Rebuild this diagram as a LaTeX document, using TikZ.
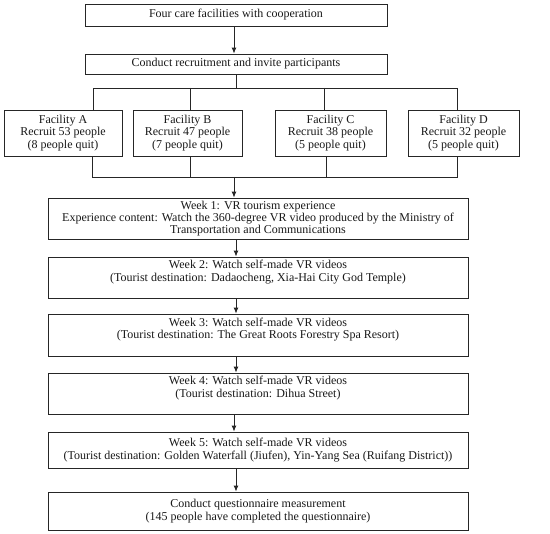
\documentclass[tikz,border=0pt]{standalone}
\usepackage{fontspec}
\setmainfont{Liberation Serif}
\usetikzlibrary{arrows.meta}
\begin{document}
\begin{tikzpicture}[x=1pt,y=-1pt,
  box/.style={draw=black!85, line width=0.8pt, align=center, inner sep=0pt,
    font=\fontsize{12}{12.3}\selectfont, text=black!90},
  conn/.style={draw=black!85, line width=0.9pt},
  arr/.style={conn, -{Latex[length=6pt,width=5pt]}}]
\useasboundingbox (0,0) rectangle (550,534);
\fill[white] (0,0) rectangle (550,534);
\node[box, minimum width=302pt, minimum height=22pt] (top) at (236,15) {Four care facilities with cooperation};
\node[box, minimum width=302pt, minimum height=20pt] (rec) at (236,64) {Conduct recruitment and invite participants};
\node[box, minimum width=118pt, minimum height=46pt] (A) at (63,133) {Facility A\\Recruit 53 people\\(8 people quit)};
\node[box, minimum width=109pt, minimum height=46pt] (B) at (187.5,133) {Facility B\\Recruit 47 people\\(7 people quit)};
\node[box, minimum width=111pt, minimum height=46pt] (C) at (330.5,133) {Facility C\\Recruit 38 people\\(5 people quit)};
\node[box, minimum width=111pt, minimum height=46pt] (D) at (463.5,133) {Facility D\\Recruit 32 people\\(5 people quit)};
\node[box, minimum width=420pt, minimum height=41pt] (w1) at (258,218.5) {Week 1: VR tourism experience\\Experience content: Watch the 360-degree VR video produced by the Ministry of\\Transportation and Communications};
\node[box, minimum width=420pt, minimum height=41pt] (w2) at (258,277.5) {Week 2: Watch self-made VR videos\\(Tourist destination: Dadaocheng, Xia-Hai City God Temple)\\[1pt]};
\node[box, minimum width=420pt, minimum height=42pt] (w3) at (258,335) {Week 3: Watch self-made VR videos\\(Tourist destination: The Great Roots Forestry Spa Resort)\\[1pt]};
\node[box, minimum width=420pt, minimum height=41pt] (w4) at (258,393.5) {Week 4: Watch self-made VR videos\\(Tourist destination: Dihua Street)\\[1pt]};
\node[box, minimum width=420pt, minimum height=36pt] (w5) at (258,450) {Week 5: Watch self-made VR videos\\(Tourist destination: Golden Waterfall (Jiufen), Yin-Yang Sea (Ruifang District))};
\node[box, minimum width=420pt, minimum height=38pt] (fin) at (258,511) {Conduct questionnaire measurement\\(145 people have completed the questionnaire)};
% spine
\coordinate (sp) at (234,0);
\coordinate (sp2) at (236,0);
\draw[arr] (top.south -| sp) -- (rec.north -| sp);
% top bus
\coordinate (ta) at (93,88);
\coordinate (tb) at (190,88);
\coordinate (tc) at (324,88);
\coordinate (td) at (457,88);
\draw[conn] (rec.south -| sp2) -- (sp2 |- ta);
\draw[conn] (ta |- A.north) -- (ta) -- (td) -- (td |- D.north);
\draw[conn] (tb) -- (tb |- B.north);
\draw[conn] (tc) -- (tc |- C.north);
% bottom bus
\coordinate (ba) at (92,177);
\coordinate (bb) at (190,177);
\coordinate (bc) at (326,177);
\coordinate (bd) at (457,177);
\draw[conn] (ba |- A.south) -- (ba) -- (bd) -- (bd |- D.south);
\draw[conn] (bb |- B.south) -- (bb);
\draw[conn] (bc |- C.south) -- (bc);
\draw[arr] (sp |- ba) -- (w1.north -| sp);
\draw[arr] (w1.south -| sp2) -- (w2.north -| sp2);
\draw[arr] (w2.south -| sp2) -- (w3.north -| sp2);
\draw[arr] (w3.south -| sp2) -- (w4.north -| sp2);
\draw[arr] (w4.south -| sp) -- (w5.north -| sp);
\draw[arr] (w5.south -| sp2) -- (fin.north -| sp2);
\end{tikzpicture}
\end{document}
